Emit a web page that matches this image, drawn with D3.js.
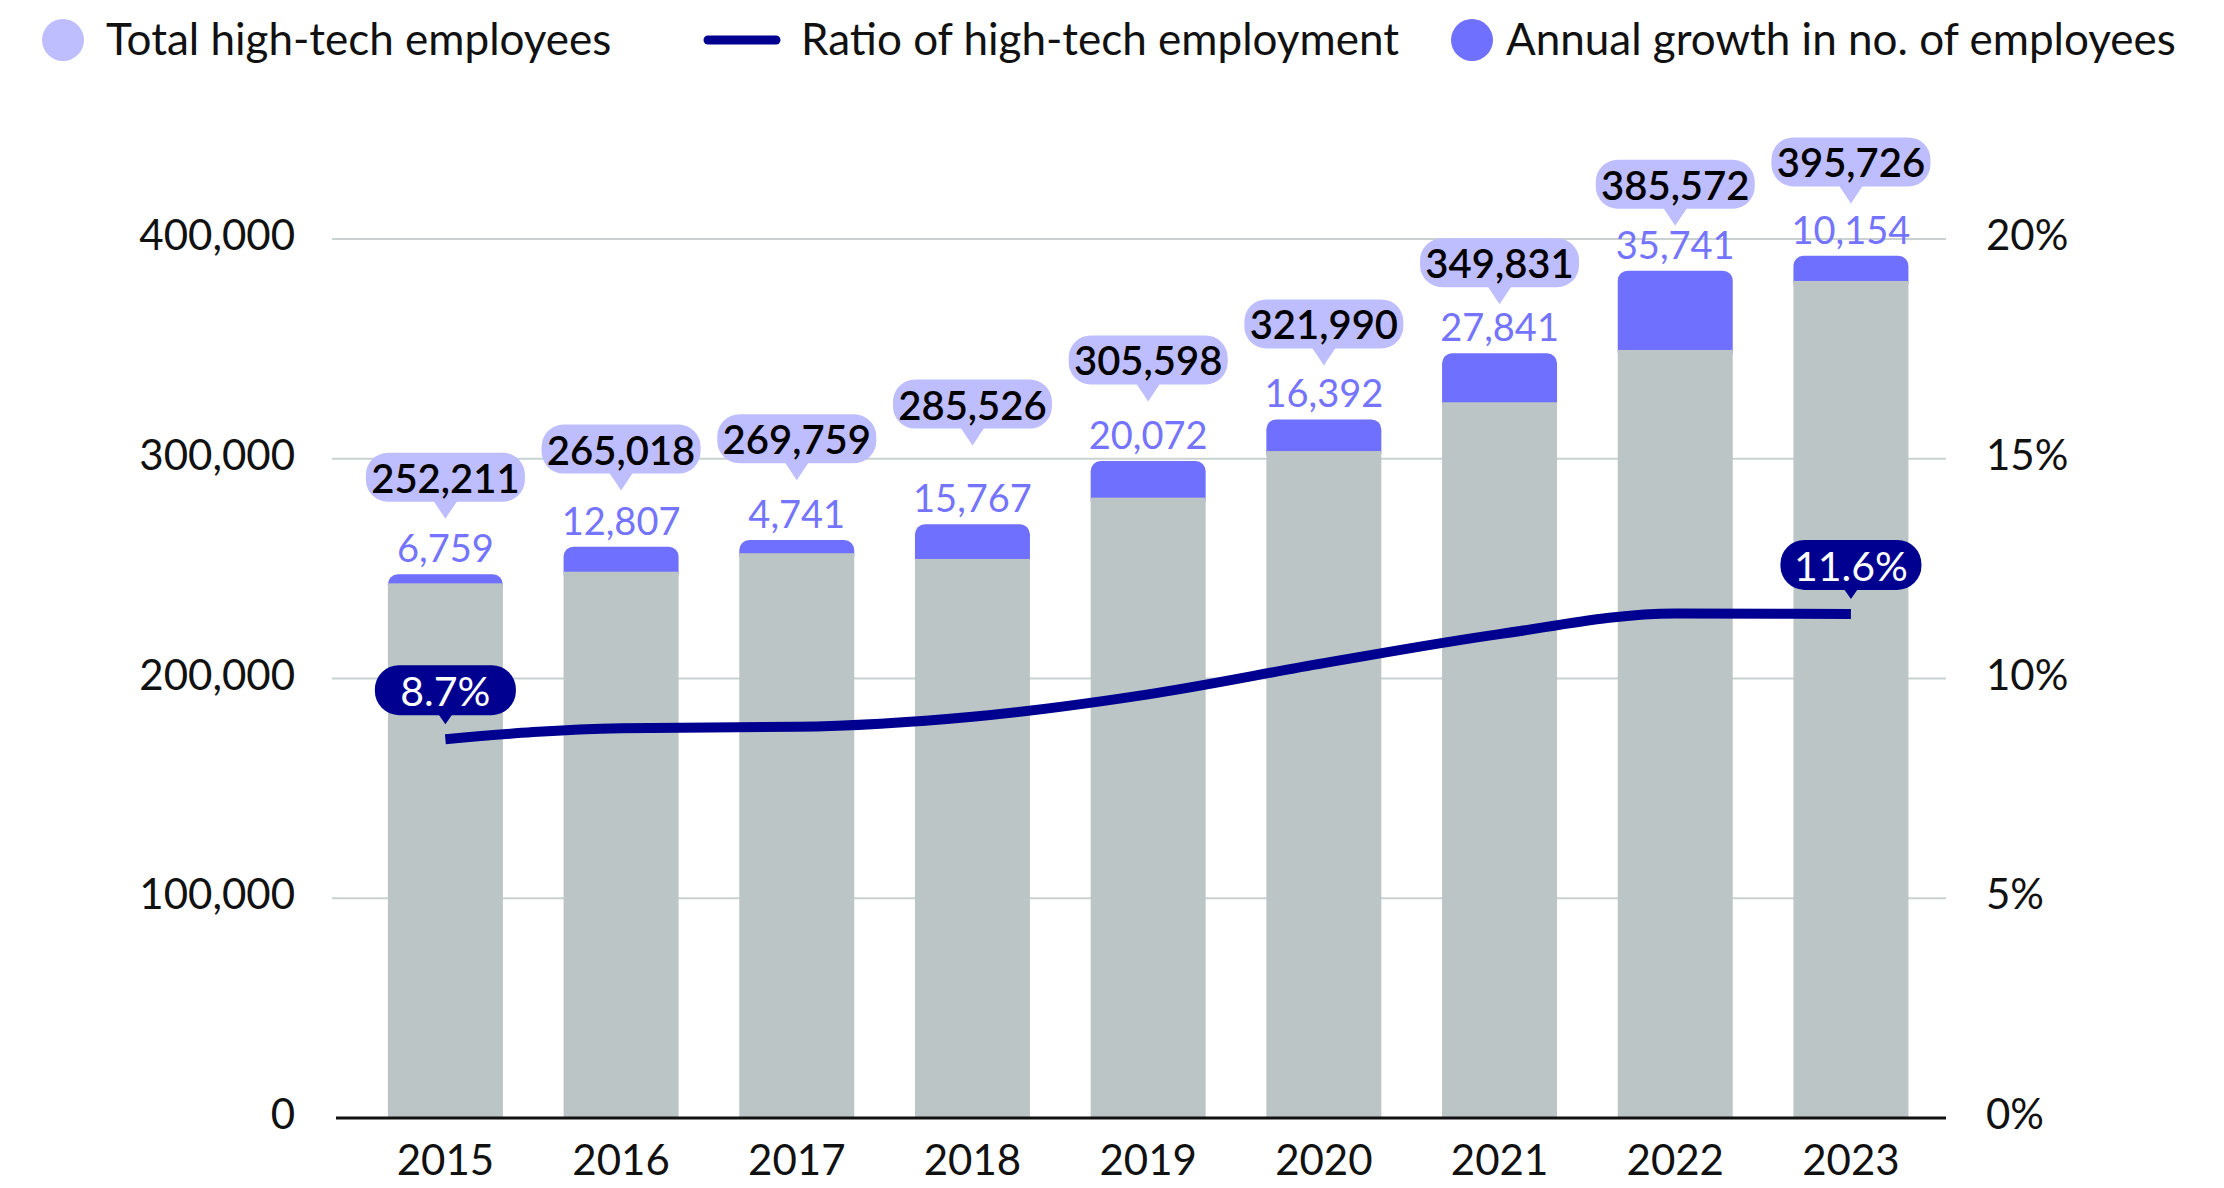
<!DOCTYPE html>
<html>
<head>
<meta charset="utf-8">
<script src="https://cdn.jsdelivr.net/npm/d3@7"></script>
<style>
    body { margin: 0; background: #fff; }
    svg  { display: block; font-family: 'Lato', sans-serif; }
</style>
</head>
<body>
<div id="chart"></div>
<script>

// ---- data ----
const years          = ['2015', '2016', '2017', '2018', '2019', '2020', '2021', '2022', '2023'];
const totalEmployees = [252211, 265018, 269759, 285526, 305598, 321990, 349831, 385572, 395726];
const annualGrowth   = [6759, 12807, 4741, 15767, 20072, 16392, 27841, 35741, 10154];

// bar segments as they are drawn in the source (they don't add up exactly to the labels)
const barBase   = [243300, 248600, 257000, 254400, 282300, 303500, 325700, 349500, 380900];
const barGrowth = [4100, 11400, 6000, 15800, 16700, 14400, 22300, 36100, 11500];

// ratio of high-tech employment, %
const ratioValues = [8.62, 8.87, 8.90, 9.13, 9.64, 10.35, 11.01, 11.48, 11.47];
const ratioLabels = ['8.7%', '', '', '', '', '', '', '', '11.6%'];

const employeeTicks = [0, 100000, 200000, 300000, 400000];
const ratioTicks    = [0, 5, 10, 15, 20];

const legendItems = [
    { label: 'Total high-tech employees',         kind: 'dot',  color: '#bebeff' },
    { label: 'Ratio of high-tech employment',     kind: 'line', color: '#000090' },
    { label: 'Annual growth in no. of employees', kind: 'dot',  color: '#7070ff' }
];


const draw = (targetEl) => {

    const width  = 2224,
          height = 1188;

    const colors = {
        base:     '#bcc5c6',
        growth:   '#7070ff',
        growthTx: '#7474ff',
        bubble:   '#bebeff',
        navy:     '#000090',
        grid:     '#cad1d1'
    };

    const gridLeft  = 332,
          gridRight = 1946,
          baseY     = 1118,
          topY      = 239;

    const svg = d3.select(targetEl)
        .append('svg')
          .attr('width',  width)
          .attr('height', height);

    // scales
    const x = d3.scaleBand()
        .domain(years)
        .range([336, gridRight])
        .paddingInner(0.3455)
        .paddingOuter(0.2546)
        .align(0.58);

    const y = d3.scaleLinear()
        .domain([0, 400000])
        .range([baseY, topY]);

    const yRatio = d3.scaleLinear()
        .domain([0, 20])
        .range([baseY, topY]);

    const cx = (i) => x(years[i]) + x.bandwidth() / 2;

    // gridlines
    svg.append('g')
        .selectAll('line')
        .data(employeeTicks.filter(d => d > 0))
        .enter()
        .append('line')
          .attr('x1', gridLeft)
          .attr('x2', gridRight)
          .attr('y1', d => y(d))
          .attr('y2', d => y(d))
          .attr('stroke', colors.grid)
          .attr('stroke-width', 2);

    // left axis
    const leftAxis = svg.append('g')
        .attr('transform', 'translate(295,0)')
        .call(d3.axisLeft(y).tickValues(employeeTicks).tickFormat(d3.format(',')).tickSize(0).tickPadding(0));

    // right axis
    const rightAxis = svg.append('g')
        .attr('transform', 'translate(1986,0)')
        .call(d3.axisRight(yRatio).tickValues(ratioTicks).tickFormat(d => d + '%').tickSize(0).tickPadding(0));

    // bottom axis
    const bottomAxis = svg.append('g')
        .attr('transform', `translate(0,${baseY})`)
        .call(d3.axisBottom(x).tickSize(0).tickPadding(27));

    [leftAxis, rightAxis, bottomAxis].forEach(ax => {
        ax.select('.domain').remove();
        ax.selectAll('text')
            .style('font-family', 'Lato, sans-serif')
            .style('font-size', '42px')
            .attr('fill', '#111');
    });
    leftAxis.selectAll('text').attr('dy', '0.25em');
    rightAxis.selectAll('text').attr('dy', '0.25em');

    // growth segment (rounded top), drawn first so the grey base hides its lower corners
    svg.append('g')
        .selectAll('rect')
        .data(years)
        .enter()
        .append('rect')
          .attr('x', d => x(d))
          .attr('width', x.bandwidth())
          .attr('y', (d, i) => y(barBase[i] + barGrowth[i]))
          .attr('height', (d, i) => y(barBase[i]) - y(barBase[i] + barGrowth[i]) + 12)
          .attr('rx', 10)
          .attr('fill', colors.growth);

    // base segment
    svg.append('g')
        .selectAll('rect')
        .data(years)
        .enter()
        .append('rect')
          .attr('x', d => x(d))
          .attr('width', x.bandwidth())
          .attr('y', (d, i) => y(barBase[i]))
          .attr('height', (d, i) => baseY - y(barBase[i]))
          .attr('fill', colors.base);

    // zero line
    svg.append('line')
        .attr('x1', 336)
        .attr('x2', gridRight)
        .attr('y1', baseY)
        .attr('y2', baseY)
        .attr('stroke', '#111')
        .attr('stroke-width', 3);

    // ratio line
    const line = d3.line()
        .x((d, i) => cx(i))
        .y(d => yRatio(d))
        .curve(d3.curveMonotoneX);

    svg.append('path')
        .datum(ratioValues)
        .attr('d', line)
        .attr('fill', 'none')
        .attr('stroke', colors.navy)
        .attr('stroke-width', 10);

    // growth labels above the bars
    svg.append('g')
        .selectAll('text')
        .data(annualGrowth)
        .enter()
        .append('text')
          .attr('x', (d, i) => cx(i))
          .attr('y', (d, i) => y(barBase[i] + barGrowth[i]) - 12)
          .attr('text-anchor', 'middle')
          .style('font-size', '38px')
          .attr('fill', colors.growthTx)
          .text(d => d3.format(',')(d));

    // total bubbles
    const bubbleW = 159, bubbleH = 49, tipH = 17;
    const totals = svg.append('g')
        .selectAll('g')
        .data(totalEmployees)
        .enter()
        .append('g')
          .attr('transform', (d, i) => `translate(${cx(i)},${y(d) - 45})`);

    totals.append('rect')
        .attr('x', -bubbleW / 2)
        .attr('y', -tipH - bubbleH)
        .attr('width', bubbleW)
        .attr('height', bubbleH)
        .attr('rx', 22)
        .attr('fill', colors.bubble);

    totals.append('path')
        .attr('d', `M-12,${-tipH - 1}L12,${-tipH - 1}L0,0Z`)
        .attr('fill', colors.bubble);

    totals.append('text')
        .attr('y', -tipH - bubbleH + 40)
        .attr('text-anchor', 'middle')
        .style('font-size', '40px')
        .style('font-weight', 600)
        .attr('fill', '#000')
        .text(d => d3.format(',')(d));

    // ratio bubbles (first and last year only)
    const ratioW = 141, ratioH = 50, ratioTip = 9;
    const ratios = svg.append('g')
        .selectAll('g')
        .data(ratioValues.map((v, i) => ({ v, i, label: ratioLabels[i] })).filter(d => d.label))
        .enter()
        .append('g')
          .attr('transform', d => `translate(${cx(d.i)},${yRatio(d.v) - 15})`);

    ratios.append('rect')
        .attr('x', -ratioW / 2)
        .attr('y', -ratioTip - ratioH)
        .attr('width', ratioW)
        .attr('height', ratioH)
        .attr('rx', 24)
        .attr('fill', colors.navy);

    ratios.append('path')
        .attr('d', `M-7,${-ratioTip - 1}L7,${-ratioTip - 1}L0,0Z`)
        .attr('fill', colors.navy);

    ratios.append('text')
        .attr('y', -ratioTip - ratioH + 41)
        .attr('text-anchor', 'middle')
        .style('font-size', '41px')
        .attr('fill', '#fff')
        .text(d => d.label);

    // legend
    const markerX = [63, 704, 1472],
          textX   = [106, 801, 1506];

    const legend = svg.append('g')
        .selectAll('g')
        .data(legendItems)
        .enter()
        .append('g')
          .attr('transform', (d, i) => `translate(${markerX[i]},40)`);

    legend.filter(d => d.kind === 'dot')
        .append('circle')
          .attr('r', 21)
          .attr('fill', d => d.color);

    legend.filter(d => d.kind === 'line')
        .append('line')
          .attr('x1', 4)
          .attr('x2', 72)
          .attr('stroke', d => d.color)
          .attr('stroke-width', 9)
          .attr('stroke-linecap', 'round');

    legend.append('text')
        .attr('x', (d, i) => textX[i] - markerX[i])
        .attr('y', 15)
        .style('font-size', '44px')
        .attr('fill', '#111')
        .text(d => d.label);
};

draw('#chart');

</script>
</body>
</html>
